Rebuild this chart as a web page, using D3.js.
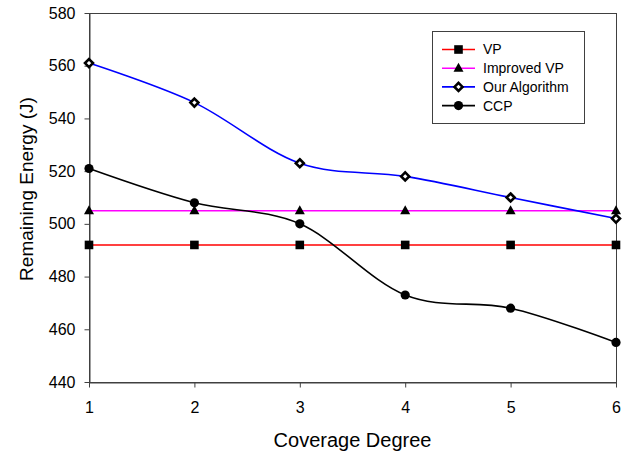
<!DOCTYPE html>
<html>
<head>
<meta charset="utf-8">
<script src="https://cdn.jsdelivr.net/npm/d3@7"></script>
<style>
  body { margin: 0; background: white; }
  svg { display: block; font-family: Arial, "Liberation Sans", sans-serif; }
</style>
</head>
<body>
<main></main>
<script>
// values
let degrees = [1, 2, 3, 4, 5, 6]
let vp = [492, 492, 492, 492, 492, 492]
let improvedVp = [505, 505, 505, 505, 505, 505]
let ourAlgorithm = [561, 546, 523, 518, 510, 502]
let ccp = [521, 508, 500, 473, 468, 455]
let yTicks = [440, 460, 480, 500, 520, 540, 560, 580]

let seriesNames = ["VP", "Improved VP", "Our Algorithm", "CCP"]
let seriesValues = [vp, improvedVp, ourAlgorithm, ccp]
let seriesColors = ["#ff0000", "#ff00ff", "#0000ff", "#000000"]
let seriesMarkers = ["square", "triangle", "diamond", "circle"]

//set dimensions
const svgWidth = 623
const svgHeight = 458
const plotLeft = 89, plotRight = 616, plotTop = 13, plotBottom = 382

let svg = d3.select("main")
    .append("svg")
    .attr("width", svgWidth)
    .attr("height", svgHeight)

let xScale = d3.scaleLinear().domain([1, 6]).range([plotLeft, plotRight])
let yScale = d3.scaleLinear().domain([440, 580]).range([plotBottom, plotTop])

//frame
svg.append("rect")
    .attr("x", plotLeft + 0.5)
    .attr("y", plotTop + 0.5)
    .attr("width", plotRight - plotLeft)
    .attr("height", plotBottom - plotTop)
    .style("fill", "none")
    .style("stroke", "#404040")

//x axis
let xAxis = svg.append("g")
    .attr("transform", `translate(0, ${plotBottom + 0.5})`)
    .call(d3.axisBottom(xScale).tickValues(degrees).tickFormat(d3.format("d")).tickSize(5).tickSizeOuter(0).tickPadding(14))
xAxis.select(".domain").style("stroke", "#404040")
xAxis.selectAll("line").style("stroke", "#404040")
xAxis.selectAll("text")
    .style("font-size", "16px")
    .style("fill", "#000")

//y axis
let yAxis = svg.append("g")
    .attr("transform", `translate(${plotLeft + 0.5}, 0)`)
    .call(d3.axisLeft(yScale).tickValues(yTicks).tickSize(5).tickSizeOuter(0).tickPadding(9))
yAxis.select(".domain").style("stroke", "#404040")
yAxis.selectAll("line").style("stroke", "#404040")
yAxis.selectAll("text")
    .style("font-size", "16px")
    .style("fill", "#000")

//axis titles
svg.append("text")
    .attr("x", (plotLeft + plotRight) / 2)
    .attr("y", 447)
    .attr("text-anchor", "middle")
    .style("font-size", "20px")
    .text("Coverage Degree")

svg.append("text")
    .attr("transform", "translate(33, 189) rotate(-90)")
    .attr("text-anchor", "middle")
    .style("font-size", "19px")
    .text("Remaining Energy (J)")

//marker shapes
function marker(g, type, x, y) {
  if (type == "square") {
    g.append("rect").attr("x", x - 4.3).attr("y", y - 4.3).attr("width", 8.6).attr("height", 8.6).style("fill", "#000")
  } else if (type == "triangle") {
    g.append("path").attr("d", `M${x},${y - 5.5}L${x + 5},${y + 3.5}L${x - 5},${y + 3.5}Z`).style("fill", "#000")
  } else if (type == "diamond") {
    g.append("path").attr("d", `M${x},${y - 4}L${x + 4},${y}L${x},${y + 4}L${x - 4},${y}Z`)
      .style("fill", "#fff").style("stroke", "#000").style("stroke-width", 2.6)
  } else {
    g.append("circle").attr("cx", x).attr("cy", y).attr("r", 4.6).style("fill", "#000")
  }
}

//lines and markers
let line = d3.line()
    .x((d, i) => xScale(degrees[i]))
    .y(d => yScale(d))
    .curve(d3.curveCardinal.tension(0))

seriesValues.forEach(function (values, s) {
  svg.append("path")
      .datum(values)
      .attr("d", line)
      .style("fill", "none")
      .style("stroke", seriesColors[s])
      .style("stroke-width", 1.6)
})
seriesValues.forEach(function (values, s) {
  let g = svg.append("g")
  values.forEach(function (v, i) {
    marker(g, seriesMarkers[s], xScale(degrees[i]), yScale(v))
  })
})

//legend
let legend = svg.append("g")
legend.append("rect")
    .attr("x", 432.5)
    .attr("y", 31.5)
    .attr("width", 152)
    .attr("height", 92)
    .style("fill", "#fff")
    .style("stroke", "#404040")

seriesNames.forEach(function (name, i) {
  let y = 49.5 + i * 18.7
  legend.append("line")
      .attr("x1", 442).attr("x2", 475)
      .attr("y1", y).attr("y2", y)
      .style("stroke", seriesColors[i])
      .style("stroke-width", 1.6)
  marker(legend, seriesMarkers[i], 458.5, y)
  legend.append("text")
      .attr("x", 483)
      .attr("y", y)
      .attr("dy", "0.35em")
      .style("font-size", "14px")
      .text(name)
})
</script>
</body>
</html>
